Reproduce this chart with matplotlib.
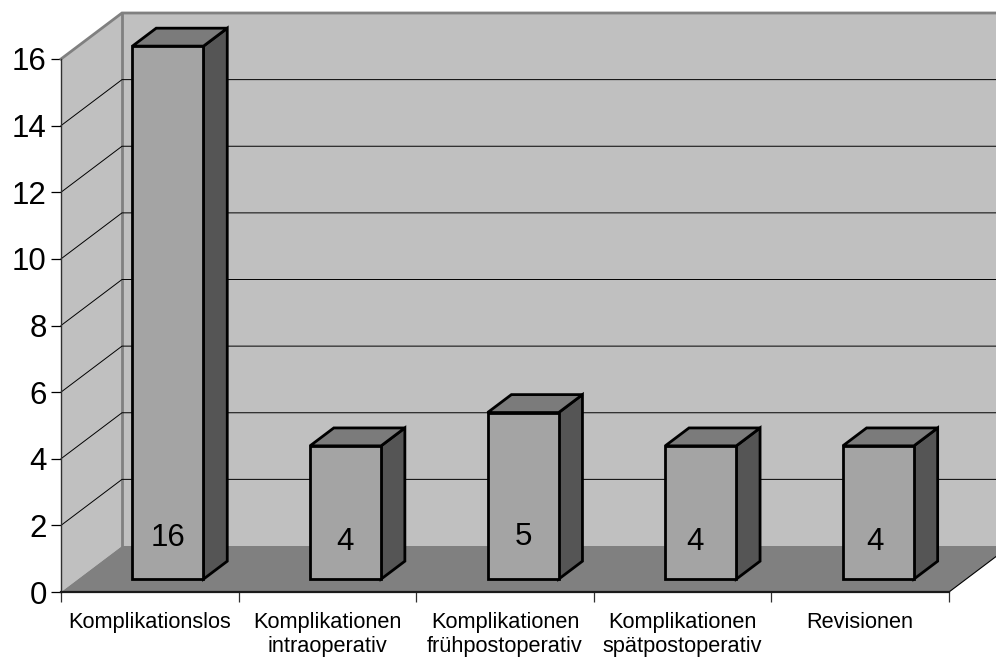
import matplotlib
matplotlib.use("Agg")
import matplotlib.pyplot as plt
from matplotlib.patches import Polygon
from matplotlib.ticker import FixedLocator, FixedFormatter, NullFormatter

categories = ["Komplikationslos", "Komplikationen\nintraoperativ", "Komplikationen\nfrühpostoperativ",
              "Komplikationen\nspätpostoperativ", "Revisionen"]
values = [16, 4, 5, 4, 4]
y_ticks = [0, 2, 4, 6, 8, 10, 12, 14, 16]

W, H = 996, 659
L, R, T, B = 61, 949, 59, 592
DEPTH_X, DEPTH_Y = 61, 46  # px shift of the back wall
BAR_START, BAR_W = 0.306, 0.40
D0, D1 = 0.28, 0.67
LABEL_PX = [41, 37, 42, 37, 37]   # label centre above bar foot, px
LABEL_DX = [0, -1, 0, -6, -3]     # horizontal nudge, px

plt.rcParams['font.family'] = ['Liberation Sans', 'DejaVu Sans']
fig = plt.figure(figsize=(W / 100, H / 100), dpi=100, facecolor='white')
ax = fig.add_axes([L / W, 1 - B / H, (R - L) / W, (B - T) / H])
ax.set_xlim(0, len(categories))
ax.set_ylim(0, 16)
ax.patch.set_visible(False)

ux = len(categories) / (R - L)
uy = 16 / (B - T)


def P(x, y, d=0.0):
    return (x + d * DEPTH_X * ux, y + d * DEPTH_Y * uy)


def poly(points, fc, ec='none', lw=0, z=1):
    p = Polygon(points, closed=True, facecolor=fc, edgecolor=ec, linewidth=lw, zorder=z,
                joinstyle='miter', transform=ax.transData)
    ax.add_patch(p)
    p.set_clip_on(False)
    return p


n = len(categories)
WALL = '#c0c0c0'
EDGE = '#808080'
# back wall, side wall, floor
poly([P(0, 0, 1), P(n, 0, 1), P(n, 16, 1), P(0, 16, 1)], WALL, z=1)
poly([P(0, 0, 0), P(0, 0, 1), P(0, 16, 1), P(0, 16, 0)], WALL, z=1)
poly([P(0, 0, 0), P(n, 0, 0), P(n, 0, 1), P(0, 0, 1)], '#808080', z=2)

# gridlines
for v in y_ticks[1:-1]:
    a, b, c = P(0, v, 0), P(0, v, 1), P(n, v, 1)
    ax.plot([a[0], b[0], c[0]], [a[1], b[1], c[1]], color='black', lw=0.7, zorder=3,
            clip_on=False, solid_joinstyle='miter')
# wall frame
a, b, c = P(0, 16, 0), P(0, 16, 1), P(n, 16, 1)
ax.plot([a[0], b[0], c[0]], [a[1], b[1], c[1]], color=EDGE, lw=2, zorder=3, clip_on=False,
        solid_joinstyle='miter')
a, b = P(0, 0, 1), P(0, 16, 1)
ax.plot([a[0], b[0]], [a[1], b[1]], color=EDGE, lw=2, zorder=2.5, clip_on=False)
# right floor edge
a, b = P(n, 0, 0), P(n, 0, 1)
ax.plot([a[0], b[0]], [a[1], b[1]], color='black', lw=0.8, zorder=3, clip_on=False)

# bars
BAR_LW = 2.0
for i, v in enumerate(values):
    x0, x1 = i + BAR_START, i + BAR_START + BAR_W
    z = 5
    poly([P(x1, 0, D0), P(x1, 0, D1), P(x1, v, D1), P(x1, v, D0)], '#555555', 'black', BAR_LW, z)
    poly([P(x0, v, D0), P(x1, v, D0), P(x1, v, D1), P(x0, v, D1)], '#7b7b7b', 'black', BAR_LW, z)
    poly([P(x0, 0, D0), P(x1, 0, D0), P(x1, v, D0), P(x0, v, D0)], '#a4a4a4', 'black', BAR_LW, z)
    ax.annotate(str(v), xy=P((x0 + x1) / 2, 0, D0),
                xytext=(LABEL_DX[i] * 0.72, LABEL_PX[i] * 0.72),
                textcoords='offset points', ha='center', va='center', fontsize=22.5,
                color='black', zorder=7)

# axes
for s in ('top', 'right'):
    ax.spines[s].set_visible(False)
ax.spines['left'].set_color('#303030')
ax.spines['left'].set_linewidth(1.0)
ax.spines['left'].set_zorder(6)
ax.spines['bottom'].set_color('#1a1a1a')
ax.spines['bottom'].set_linewidth(1.6)
ax.spines['bottom'].set_zorder(6)

ax.set_yticks(y_ticks)
ax.tick_params(axis='y', length=7, width=0.9, color='black', labelsize=22.5, pad=3.3)
ax.xaxis.set_major_locator(FixedLocator(list(range(n + 1))))
ax.xaxis.set_major_formatter(NullFormatter())
ax.xaxis.set_minor_locator(FixedLocator([i + 0.5 for i in range(n)]))
ax.xaxis.set_minor_formatter(FixedFormatter(categories))
ax.tick_params(axis='x', which='major', length=7, width=0.9, color='#303030')
ax.tick_params(axis='x', which='minor', length=0, labelsize=15.7, pad=14.5)
for t in ax.xaxis.get_minorticklabels():
    t.set_linespacing(1.2)
    t.set_va('top')

fig.savefig('out.png', dpi=100, facecolor='white')
